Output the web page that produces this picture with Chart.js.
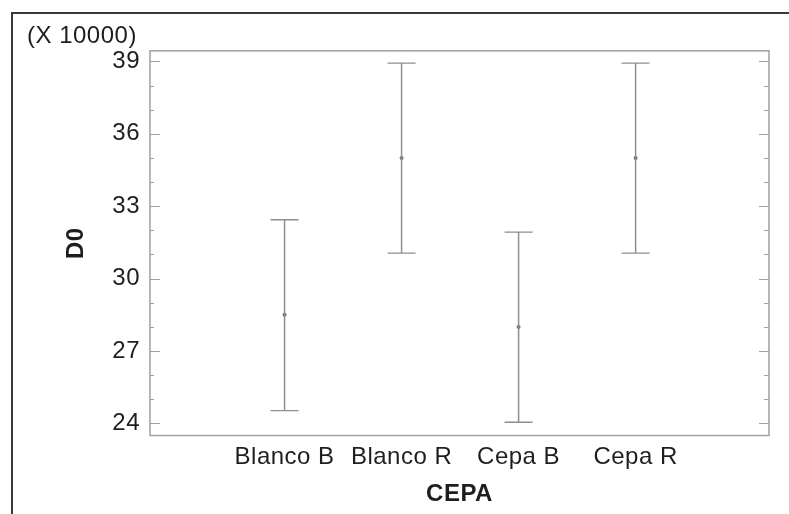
<!DOCTYPE html>
<html><head><meta charset="utf-8">
<script src="https://cdn.jsdelivr.net/npm/chart.js@4"></script>
<style>
html,body{margin:0;padding:0;background:#fff;}
#wrap{position:relative;width:789px;height:514px;overflow:hidden;}
#frame{position:absolute;left:11px;top:12px;width:800px;height:520px;border-top:2px solid #3a3a3a;border-left:2px solid #3a3a3a;pointer-events:none;}
canvas{position:absolute;left:0;top:0;}
</style></head><body>
<div id="wrap"><canvas id="c" width="789" height="514"></canvas><div id="frame"></div></div>
<script>
// ---- data ----
const categories = ['Blanco B', 'Blanco R', 'Cepa B', 'Cepa R'];
const means = [28.5, 35.0, 28.0, 35.0];
const lower = [24.53, 31.06, 24.05, 31.06];
const upper = [32.44, 38.93, 31.93, 38.93];
const yTickValues = [24, 27, 30, 33, 36, 39];
const yMinorValues = [24, 25, 26, 27, 28, 29, 30, 31, 32, 33, 34, 35, 36, 37, 38, 39];
const yScaleNote = '(X 10000)';
const xTitle = 'CEPA';
const yTitle = 'D0';

// ---- build datasets ----
const barPoints = [];
categories.forEach((c, i) => {
  barPoints.push({x: i + 1, y: lower[i]});
  barPoints.push({x: i + 1, y: upper[i]});
  barPoints.push({x: i + 1, y: null});
});
const meanPoints = categories.map((c, i) => ({x: i + 1, y: means[i]}));

const FONT = 'Liberation Sans, Arial, Helvetica, sans-serif';
const TXT = '#1e1e1e';
const BAR = '#8e8e8e';
const AXIS = '#a0a0a0';
const FS = 24;

const spacingPlugin = {
  id: 'spacing',
  beforeInit(chart) { chart.ctx.letterSpacing = '0.5px'; },
  beforeLayout(chart) { chart.ctx.letterSpacing = '0.5px'; },
  beforeDraw(chart) { chart.ctx.letterSpacing = '0.5px'; }
};

const framePlugin = {
  id: 'frameTicks',
  afterDraw(chart) {
    const {ctx, chartArea: a} = chart;
    const ys = chart.scales.y;
    ctx.save();
    ctx.strokeStyle = AXIS;
    ctx.lineWidth = 1.5;
    ctx.strokeRect(a.left, a.top, a.right - a.left, a.bottom - a.top);
    ctx.lineWidth = 1.2;
    yMinorValues.forEach(v => {
      const y = Math.round(ys.getPixelForValue(v)) + 0.5;
      const major = yTickValues.includes(v);
      ctx.beginPath();
      ctx.moveTo(a.left, y); ctx.lineTo(a.left + (major ? 10 : 4), y);
      ctx.moveTo(a.right, y); ctx.lineTo(a.right - (major ? 10 : 5), y);
      ctx.stroke();
    });
    ctx.restore();
  }
};

new Chart(document.getElementById('c'), {
  type: 'scatter',
  data: {
    datasets: [
      {
        data: barPoints,
        showLine: true,
        spanGaps: false,
        borderColor: BAR,
        borderWidth: 1.5,
        pointStyle: 'line',
        pointRadius: 14,
        pointBorderColor: BAR,
        pointBorderWidth: 1.3,
        pointHoverRadius: 14
      },
      {
        data: meanPoints,
        showLine: false,
        pointStyle: 'circle',
        pointRadius: 2,
        pointBackgroundColor: '#6f6f6f',
        pointBorderColor: '#6f6f6f',
        pointBorderWidth: 0
      }
    ]
  },
  options: {
    responsive: false,
    devicePixelRatio: 1,
    animation: false,
    events: [],
    layout: {padding: {top: 10, left: 27, right: 20, bottom: 0}},
    plugins: {
      legend: {display: false},
      tooltip: {enabled: false},
      title: {
        display: true,
        text: yScaleNote,
        align: 'start',
        color: TXT,
        font: {family: FONT, size: FS, weight: 'normal', lineHeight: 1.2},
        padding: {top: 12, bottom: 0}
      }
    },
    scales: {
      x: {
        type: 'linear',
        position: 'bottom',
        min: -0.15,
        max: 5.14,
        grid: {display: false, drawTicks: false},
        border: {display: false},
        afterBuildTicks: s => { s.ticks = categories.map((c, i) => ({value: i + 1})); },
        afterFit: s => { s.height = 78.5; },
        ticks: {
          autoSkip: false,
          maxRotation: 0,
          padding: 7,
          color: TXT,
          font: {family: FONT, size: FS},
          callback: v => categories[v - 1] || ''
        },
        title: {
          display: true,
          text: xTitle,
          color: TXT,
          font: {family: FONT, size: FS, weight: 'bold', lineHeight: 1.2},
          padding: {top: 0, bottom: 5}
        }
      },
      y: {
        type: 'linear',
        min: 23.5,
        max: 39.44,
        grid: {display: false, drawTicks: false},
        border: {display: false},
        afterBuildTicks: s => { s.ticks = yTickValues.map(v => ({value: v})); },
        afterFit: s => { s.width = 123; },
        ticks: {
          padding: 10,
          color: TXT,
          font: {family: FONT, size: FS}
        },
        title: {
          display: true,
          text: yTitle,
          color: TXT,
          font: {family: FONT, size: FS, weight: 'bold', lineHeight: 1.2},
          padding: {top: 35, bottom: 0}
        }
      }
    }
  },
  plugins: [spacingPlugin, framePlugin]
});
</script>
</body></html>
